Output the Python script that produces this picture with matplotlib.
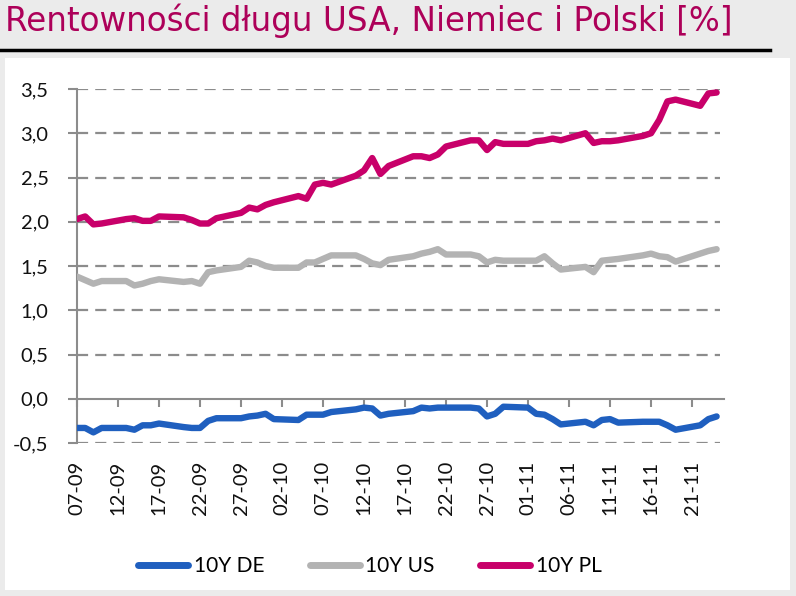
import matplotlib
matplotlib.use("Agg")
import matplotlib.pyplot as plt
from matplotlib.patches import Rectangle
import matplotlib.ticker as mticker
import pandas as pd
import numpy as np

dates = pd.bdate_range("2021-09-07", "2021-11-24")

de_10y = [-0.33, -0.33, -0.38, -0.33,
          -0.33, -0.35, -0.30, -0.30, -0.28,
          -0.32, -0.33, -0.33, -0.25, -0.22,
          -0.22, -0.20, -0.19, -0.17, -0.23,
          -0.24, -0.18, -0.18, -0.18, -0.15,
          -0.12, -0.10, -0.11, -0.19, -0.17,
          -0.14, -0.10, -0.11, -0.10, -0.10,
          -0.10, -0.11, -0.20, -0.17, -0.09,
          -0.10, -0.17, -0.18, -0.23, -0.29,
          -0.26, -0.30, -0.24, -0.23, -0.27,
          -0.26, -0.26, -0.26, -0.30, -0.35,
          -0.30, -0.23, -0.20]
us_10y = [1.38, 1.34, 1.30, 1.33,
          1.33, 1.28, 1.30, 1.33, 1.35,
          1.32, 1.33, 1.30, 1.43, 1.45,
          1.49, 1.56, 1.54, 1.50, 1.48,
          1.48, 1.54, 1.54, 1.58, 1.62,
          1.62, 1.58, 1.53, 1.51, 1.57,
          1.61, 1.64, 1.66, 1.69, 1.63,
          1.63, 1.61, 1.54, 1.57, 1.56,
          1.56, 1.56, 1.61, 1.53, 1.46,
          1.49, 1.43, 1.56, 1.57, 1.58,
          1.62, 1.64, 1.61, 1.60, 1.55,
          1.64, 1.67, 1.69]
pl_10y = [2.03, 2.06, 1.97, 1.98,
          2.03, 2.04, 2.01, 2.01, 2.06,
          2.05, 2.02, 1.98, 1.98, 2.04,
          2.10, 2.16, 2.14, 2.19, 2.22,
          2.29, 2.26, 2.42, 2.44, 2.42,
          2.52, 2.58, 2.72, 2.54, 2.63,
          2.74, 2.74, 2.72, 2.76, 2.85,
          2.92, 2.92, 2.81, 2.90, 2.88,
          2.88, 2.91, 2.92, 2.94, 2.92,
          3.00, 2.89, 2.91, 2.91, 2.92,
          2.97, 3.00, 3.15, 3.36, 3.38,
          3.31, 3.45, 3.46]

series_names = ["10Y DE", "10Y US", "10Y PL"]
series_colors = ["#1f5fbf", "#b3b3b3", "#c8006a"]

title = "Rentowności długu USA, Niemiec i Polski [%]"
tick_dates = pd.date_range("2021-09-07", "2021-11-21", freq="5D")
y_ticks = np.arange(-0.5, 3.51, 0.5)

start = dates[0]
x = (dates - start).days.values
xt = (tick_dates - start).days.values
xt_labels = [d.strftime("%d-%m") for d in tick_dates]

fig = plt.figure(figsize=(7.96, 5.96), dpi=100, facecolor="#ebebeb")
fig.patches.append(Rectangle((5/796, 6/596), 785/796, 532/596,
                             transform=fig.transFigure, facecolor="white",
                             edgecolor="none", zorder=-5))
fig.text(5/796, 1 - 21/596, title, color="#ad0059", fontsize=23.5,
         fontfamily="DejaVu Sans", va="center", ha="left", zorder=5)
fig.add_artist(plt.Line2D([0, 770/796], [1 - 50/596, 1 - 50/596],
                          transform=fig.transFigure, color="black", lw=2.5))

ax = fig.add_axes([77/796, (596-443)/596, (724-77)/796, (443-89)/596])
ax.set_facecolor("none")
ax.set_zorder(2)
ax.set_xlim(0, 78.9)
ax.set_ylim(-0.5, 3.5)

grid_color = "#8c8c8c"
for yv in y_ticks:
    if abs(yv) > 1e-9:
        ax.axhline(yv, xmin=0, xmax=(78.4) / 78.9, color=grid_color, lw=1.6,
                   ls=(0, (5, 3.2)), zorder=1)

for vals, name, col in zip([de_10y, us_10y, pl_10y], series_names, series_colors):
    ax.plot(x, vals, color=col, lw=4.6, solid_capstyle="round",
            solid_joinstyle="round", label=name, zorder=3)

for s in ["top", "right"]:
    ax.spines[s].set_visible(False)
ax.spines["left"].set_color(grid_color)
ax.spines["left"].set_linewidth(1.5)
ax.spines["bottom"].set_position(("data", 0))
ax.spines["bottom"].set_color(grid_color)
ax.spines["bottom"].set_linewidth(1.5)

ax.set_yticks(y_ticks)
ax.yaxis.set_major_formatter(mticker.FuncFormatter(lambda v, p: f"{v:.1f}".replace(".", ",")))
ax.tick_params(axis="y", direction="out", length=6.5, width=1.5, color=grid_color,
               labelsize=14.5, pad=14, labelcolor="#111111")
for lab in ax.get_yticklabels():
    lab.set_fontfamily("Lato")

ax.set_xticks(xt)
ax.tick_params(axis="x", direction="out", length=6, width=1.5, color=grid_color,
               labelbottom=False)

sec = ax.secondary_xaxis("bottom")
sec.set_xticks(xt)
sec.set_xticklabels(xt_labels, rotation=90, fontsize=14.5, fontfamily="Lato",
                    color="#111111")
sec.tick_params(axis="x", length=0, pad=13)
sec.spines["bottom"].set_visible(False)

leg = fig.legend(loc="center", bbox_to_anchor=(370/796, 1 - 566/596), ncol=3,
                 frameon=False, handlelength=2.4, handletextpad=0.25,
                 columnspacing=2.2, prop={"family": "Lato", "size": 15})
for h in leg.get_lines():
    h.set_linewidth(5)
    h.set_solid_capstyle("round")

fig.savefig("out.png", dpi=100, facecolor=fig.get_facecolor())
